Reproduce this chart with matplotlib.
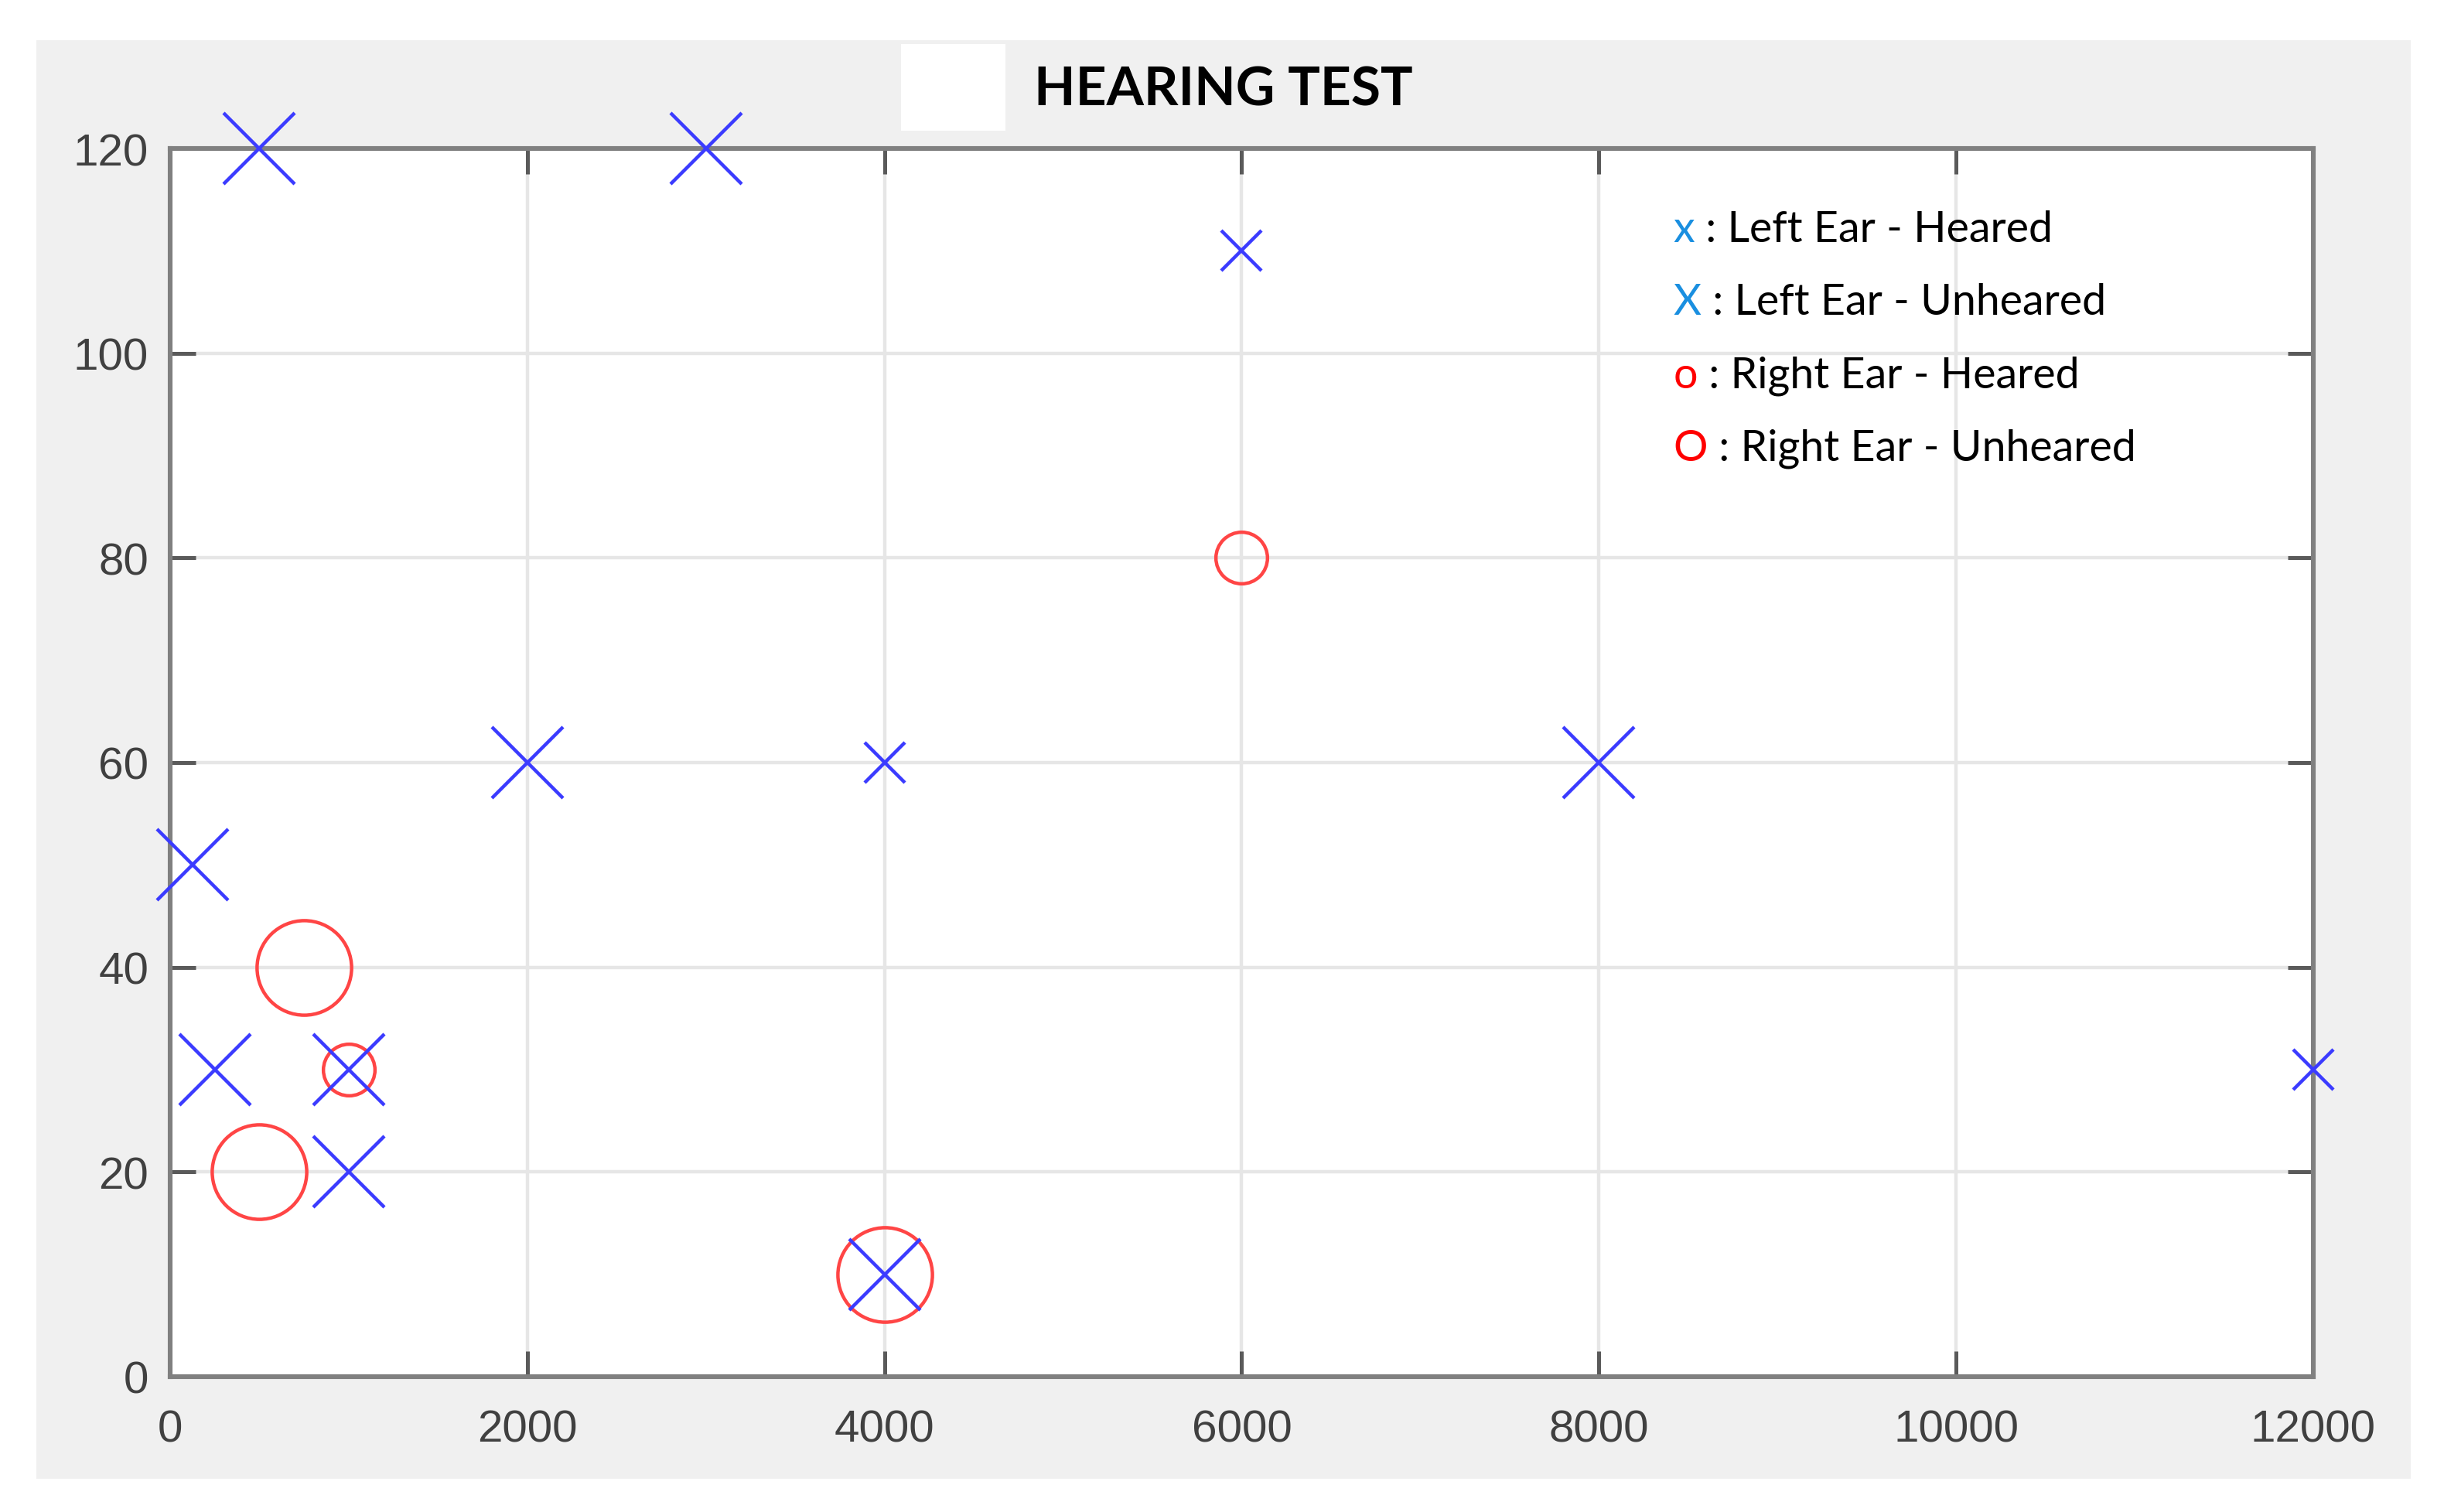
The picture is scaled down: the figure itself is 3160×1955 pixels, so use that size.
import matplotlib
matplotlib.use("Agg")
import matplotlib.pyplot as plt
from matplotlib.patches import Rectangle

# ---- data ----
left_unheard_x = [500, 3000, 125, 2000, 8000, 250, 1000, 1000, 4000]
left_unheard_y = [120, 120, 50, 60, 60, 30, 30, 20, 10]
left_heard_x = [6000, 4000, 12000]
left_heard_y = [110, 60, 30]
right_heard_x = [6000, 1000]
right_heard_y = [80, 30]
right_unheard_x = [750, 500, 4000]
right_unheard_y = [40, 20, 10]

x_ticks = [0, 2000, 4000, 6000, 8000, 10000, 12000]
y_ticks = [0, 20, 40, 60, 80, 100, 120]

legend_prefix = ["x", "X", "o", "O"]
legend_rest = [" : Left Ear - Heared", " : Left Ear - Unheared",
               " : Right Ear - Heared", " : Right Ear - Unheared"]
legend_colors = ["#1a8fe0", "#1a8fe0", "#ff0000", "#ff0000"]
legend_y = [112.1, 105.0, 97.8, 90.7]
legend_x = 8418

title = "HEARING TEST"

# ---- figure ----
fig = plt.figure(figsize=(15.8, 9.78), dpi=200, facecolor="white")
fig.patches.append(Rectangle((0.0149, 0.0220), 0.9715, 0.9509, transform=fig.transFigure,
                             facecolor="#f0f0f0", edgecolor="none", zorder=-10))
fig.patches.append(Rectangle((0.3687, 0.9131), 0.0427, 0.0572, transform=fig.transFigure,
                             facecolor="white", edgecolor="none", zorder=-5))

ax = fig.add_axes([0.0696, 0.0895, 0.8769, 0.8118])
ax.set_facecolor("white")
ax.set_xlim(0, 12000)
ax.set_ylim(0, 120)
ax.set_xticks(x_ticks)
ax.set_yticks(y_ticks)
ax.set_xticklabels([str(v) for v in x_ticks])
ax.set_yticklabels([str(v) for v in y_ticks])
ax.grid(True, color="#e6e6e6", linewidth=1.6, zorder=0)
ax.set_axisbelow(True)
for s in ax.spines.values():
    s.set_color("#808080")
    s.set_linewidth(2.2)
ax.tick_params(direction="in", length=12, width=1.8, color="#5a5a5a",
               top=True, right=True, labelsize=21, labelcolor="#404040")
ax.tick_params(axis="x", pad=15)
ax.tick_params(axis="y", pad=10)
for lab in ax.get_xticklabels() + ax.get_yticklabels():
    lab.set_family("Liberation Sans")

blue = "#3b3bff"
red = "#ff4545"
ax.plot(right_unheard_x, right_unheard_y, linestyle="none", marker="o", markersize=44,
        markerfacecolor="none", markeredgecolor=red, markeredgewidth=1.6, clip_on=False, zorder=3)
ax.plot(right_heard_x, right_heard_y, linestyle="none", marker="o", markersize=24,
        markerfacecolor="none", markeredgecolor=red, markeredgewidth=1.6, clip_on=False, zorder=3)
ax.plot(left_unheard_x, left_unheard_y, linestyle="none", marker="x", markersize=33,
        markeredgecolor=blue, markeredgewidth=1.6, clip_on=False, zorder=4)
ax.plot(left_heard_x, left_heard_y, linestyle="none", marker="x", markersize=19,
        markeredgecolor=blue, markeredgewidth=1.6, clip_on=False, zorder=4)

for p, r, c, y in zip(legend_prefix, legend_rest, legend_colors, legend_y):
    t = ax.text(legend_x, y, p, color=c, fontsize=20, family="Lato",
                ha="left", va="center", zorder=5)
    ax.annotate(r, xy=(1, 0), xycoords=t, ha="left", va="bottom",
                fontsize=20, family="Lato", color="black", zorder=5)

fig.text(0.5006, 0.9400, title, ha="center", va="center", fontsize=25,
         fontweight="bold", family="Lato", color="black")

fig.savefig("out.png", dpi=200, facecolor="white")
